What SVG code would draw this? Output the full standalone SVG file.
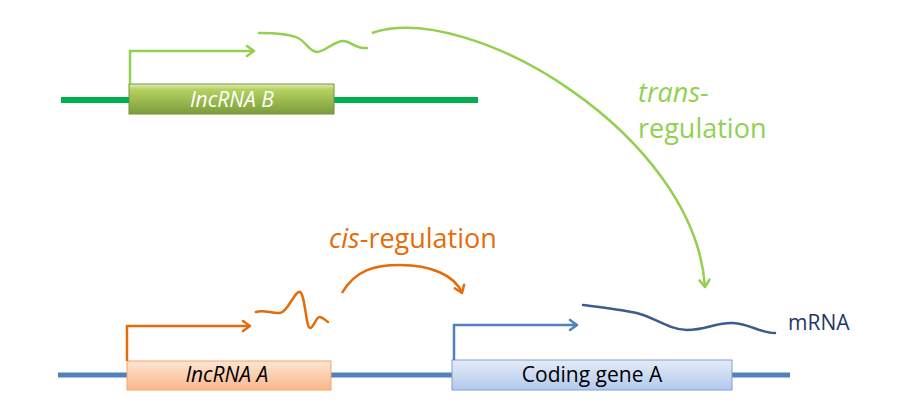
<svg xmlns="http://www.w3.org/2000/svg" width="900" height="414" viewBox="0 0 900 414">
<defs>
<style>
.txt{font-family:"Open Sans","Liberation Sans",sans-serif}
</style>
<linearGradient id="gGreen" x1="0" y1="0" x2="0" y2="1">
<stop offset="0" stop-color="#e0ecb8"/><stop offset="0.18" stop-color="#b5d261"/><stop offset="1" stop-color="#7c9c3b"/>
</linearGradient>
<linearGradient id="gOrange" x1="0" y1="0" x2="0" y2="1">
<stop offset="0" stop-color="#fde6d4"/><stop offset="1" stop-color="#f8b78a"/>
</linearGradient>
<linearGradient id="gBlue" x1="0" y1="0" x2="0" y2="1">
<stop offset="0" stop-color="#e4ecf8"/><stop offset="1" stop-color="#b3c9ec"/>
</linearGradient>
<marker id="mGreen" markerWidth="14" markerHeight="14" refX="10" refY="7" orient="auto" markerUnits="userSpaceOnUse">
<path d="M3,2 L10,7 L3,12" fill="none" stroke="#92d050" stroke-width="2.5" stroke-linecap="round" stroke-linejoin="round"/>
</marker>
<marker id="mOrange" markerWidth="14" markerHeight="14" refX="10" refY="7" orient="auto" markerUnits="userSpaceOnUse">
<path d="M3,2 L10,7 L3,12" fill="none" stroke="#e46c0a" stroke-width="2.5" stroke-linecap="round" stroke-linejoin="round"/>
</marker>
<marker id="mBlue" markerWidth="14" markerHeight="14" refX="10" refY="7" orient="auto" markerUnits="userSpaceOnUse">
<path d="M3,2 L10,7 L3,12" fill="none" stroke="#4f81bd" stroke-width="2.5" stroke-linecap="round" stroke-linejoin="round"/>
</marker>
</defs>
<rect width="900" height="414" fill="#ffffff"/>

<!-- chromosome lines -->
<line x1="61" y1="100" x2="478" y2="100" stroke="#00b050" stroke-width="6"/>
<line x1="58" y1="375" x2="790" y2="375" stroke="#4f81bd" stroke-width="5"/>

<g id="lncRNA-B">
<rect x="129" y="84" width="205" height="30" fill="url(#gGreen)" stroke="#76923c" stroke-width="1"/>
<text class="txt" x="232" y="107" font-size="21" font-style="italic" fill="#ffffff" text-anchor="middle">lncRNA B</text>
</g>

<g id="lncRNA-A">
<rect x="127" y="361" width="204" height="29" fill="url(#gOrange)" stroke="#f6a46a" stroke-width="1"/>
<text class="txt" x="227" y="382" font-size="21" font-style="italic" fill="#000000" text-anchor="middle">lncRNA A</text>
</g>

<g id="coding-gene-A">
<rect x="452" y="360" width="280" height="30" fill="url(#gBlue)" stroke="#7f9fcf" stroke-width="1"/>
<text class="txt" x="592" y="382" font-size="21" fill="#000000" text-anchor="middle">Coding gene A</text>
</g>

<g id="transcripts">
<path d="M259,33 C275,33 290,34 298,38 C306,42 310,52 317,52 C325,52 335,40 344,41 C352,42 356,49 367,48" fill="none" stroke="#92d050" stroke-width="2.5" stroke-linecap="round"/>
<path d="M256,312 C264,309 272,314 280,313 C288,312 295,290 300,292 C305,294 306,328 310,328 C314,328 316,316 320,317 C324,318 326,321 328,322" fill="none" stroke="#e46c0a" stroke-width="2.5" stroke-linecap="round"/>
<path d="M583,305 C605,308 625,310 640,314 C655,318 670,330 687,330 C705,330 718,322 733,323 C750,324 760,333 775,333" fill="none" stroke="#3a5d8f" stroke-width="2.5" stroke-linecap="round"/>
<text class="txt" x="788" y="330" font-size="21" fill="#1f3864">mRNA</text>
</g>

<g id="connectors">
<path d="M130,84 L130,51 L254,51" fill="none" stroke="#92d050" stroke-width="2.5" marker-end="url(#mGreen)"/>
<path d="M127,361 L127,326 L250,326" fill="none" stroke="#e46c0a" stroke-width="2.5" marker-end="url(#mOrange)"/>
<path d="M454,360 L454,325 L577,325" fill="none" stroke="#4f81bd" stroke-width="2.5" marker-end="url(#mBlue)"/>
<path d="M372,33 C470,0 695,135 705,287" fill="none" stroke="#92d050" stroke-width="2.5" marker-end="url(#mGreen)"/>
<path d="M342,293 C355,270 375,265 400,265 C430,265 455,275 462,293" fill="none" stroke="#e46c0a" stroke-width="2.5" marker-end="url(#mOrange)"/>
</g>

<g id="labels">
<text class="txt" x="638" y="102" font-size="27" fill="#92d050"><tspan font-style="italic">trans</tspan>-</text>
<text class="txt" x="638" y="138" font-size="27" fill="#92d050">regulation</text>
<text class="txt" x="329" y="248" font-size="27" fill="#e46c0a"><tspan font-style="italic">cis</tspan>-regulation</text>
</g>
</svg>
